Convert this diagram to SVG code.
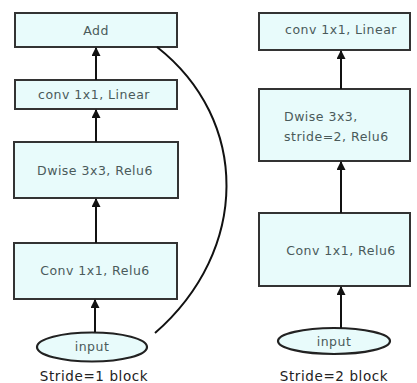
<svg xmlns="http://www.w3.org/2000/svg" width="417" height="383" viewBox="0 0 417 383">
  <defs>
    <marker id="arrow" viewBox="0 0 10 10" refX="9" refY="5" markerWidth="5" markerHeight="4.5" orient="auto">
      <path d="M0,0 L10,5 L0,10 z" fill="#111"/>
    </marker>
    <style>
      .box { fill: #e8fbfb; stroke: #333; stroke-width: 2; }
      .oval { fill: #e8fbfb; stroke: #222; stroke-width: 2.2; }
      .lbl { font-family: "DejaVu Sans", sans-serif; font-size: 12.5px; letter-spacing: 0.5px; fill: #4a5a5a; }
      .cap { font-family: "DejaVu Sans", sans-serif; font-size: 13.5px; letter-spacing: 0.6px; fill: #222; text-anchor: middle; }
      .edge { stroke: #111; stroke-width: 2; fill: none; }
    </style>
  </defs>
  <rect width="417" height="383" fill="#fff"/>

  <!-- Stride 1 block -->
  <g id="s1-add">
    <rect class="box" x="15" y="13" width="162" height="34"/>
    <text class="lbl" x="96" y="34.5" text-anchor="middle">Add</text>
  </g>
  <g id="s1-linear">
    <rect class="box" x="15" y="80" width="162" height="29"/>
    <text class="lbl" x="94" y="99" text-anchor="middle">conv 1x1, Linear</text>
  </g>
  <g id="s1-dwise">
    <rect class="box" x="14" y="142" width="164" height="56"/>
    <text class="lbl" x="95" y="174.5" text-anchor="middle">Dwise 3x3, Relu6</text>
  </g>
  <g id="s1-conv">
    <rect class="box" x="14" y="243" width="163" height="56"/>
    <text class="lbl" x="95" y="274.5" text-anchor="middle">Conv 1x1, Relu6</text>
  </g>
  <g id="s1-input">
    <ellipse class="oval" cx="92" cy="347" rx="55" ry="14.5"/>
    <text class="lbl" x="92" y="351" text-anchor="middle">input</text>
  </g>
  <text class="cap" x="94" y="381">Stride=1 block</text>

  <!-- Stride 2 block -->
  <g id="s2-linear">
    <rect class="box" x="259" y="13" width="151" height="37"/>
    <text class="lbl" x="341" y="33.5" text-anchor="middle">conv 1x1, Linear</text>
  </g>
  <g id="s2-dwise">
    <rect class="box" x="259" y="89" width="151" height="72"/>
    <text class="lbl" x="284" y="120.5">Dwise 3x3,</text>
    <text class="lbl" x="284" y="140.5">stride=2, Relu6</text>
  </g>
  <g id="s2-conv">
    <rect class="box" x="259" y="213" width="151" height="73"/>
    <text class="lbl" x="341" y="254.5" text-anchor="middle">Conv 1x1, Relu6</text>
  </g>
  <g id="s2-input">
    <ellipse class="oval" cx="334" cy="341" rx="56" ry="13"/>
    <text class="lbl" x="334" y="345.5" text-anchor="middle">input</text>
  </g>
  <text class="cap" x="334" y="381">Stride=2 block</text>

  <!-- Connectors -->
  <g id="edges">
    <line class="edge" x1="95" y1="332" x2="95" y2="300" marker-end="url(#arrow)"/>
    <line class="edge" x1="96" y1="243" x2="96" y2="199" marker-end="url(#arrow)"/>
    <line class="edge" x1="96" y1="142" x2="96" y2="110" marker-end="url(#arrow)"/>
    <line class="edge" x1="96" y1="80" x2="96" y2="48" marker-end="url(#arrow)"/>
    <path class="edge" d="M155,333 C250,250 250,120 157,47" stroke-width="1.6"/>
    <line class="edge" x1="341" y1="328" x2="341" y2="287" marker-end="url(#arrow)"/>
    <line class="edge" x1="341" y1="213" x2="341" y2="162" marker-end="url(#arrow)"/>
    <line class="edge" x1="341" y1="89" x2="341" y2="51" marker-end="url(#arrow)"/>
  </g>
</svg>
